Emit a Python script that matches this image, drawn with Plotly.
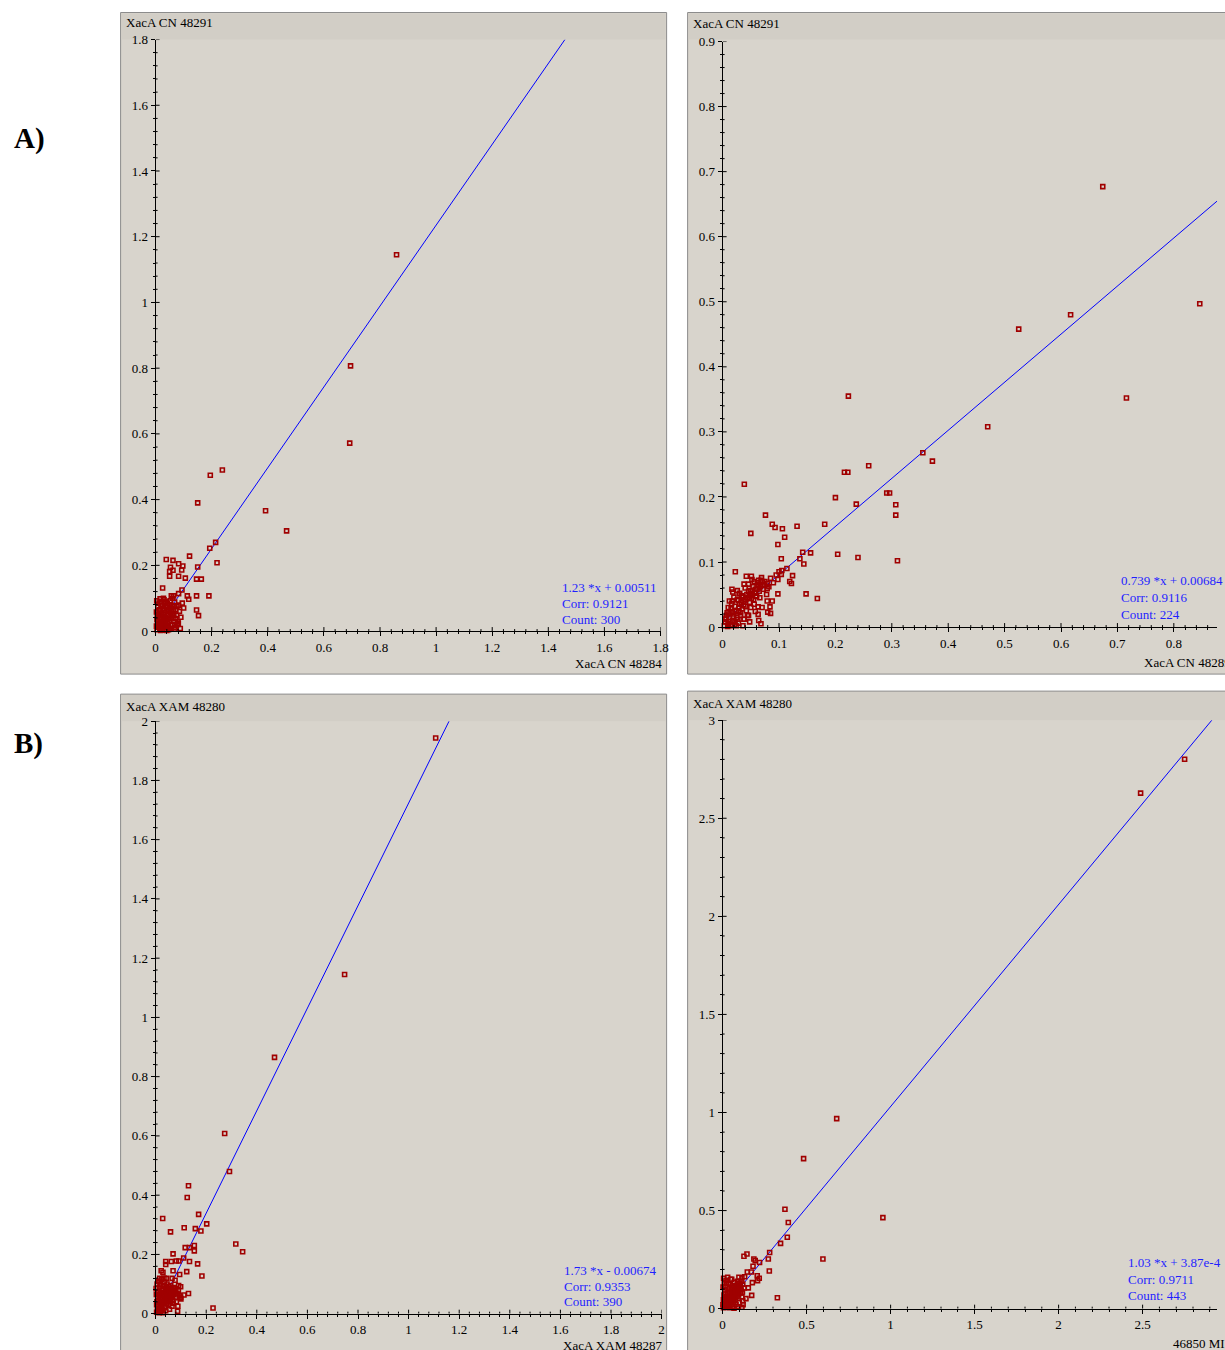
import plotly.graph_objects as go

W, H = 1225, 1350

# ---------------- data ----------------
# Panel A (left): XacA CN 48284 (x) vs XacA CN 48291 (y)
a1_points = [
    (0.859, 1.145), (0.695, 0.807), (0.692, 0.572), (0.392, 0.366), (0.467, 0.305),
    (0.238, 0.490), (0.195, 0.474), (0.150, 0.390), (0.214, 0.270), (0.193, 0.252),
    (0.219, 0.208), (0.121, 0.228), (0.150, 0.195), (0.038, 0.218), (0.062, 0.215),
    (0.082, 0.205), (0.097, 0.198), (0.053, 0.194), (0.050, 0.181), (0.062, 0.185),
    (0.093, 0.186), (0.050, 0.167), (0.082, 0.167), (0.106, 0.161), (0.146, 0.158),
    (0.163, 0.158), (0.025, 0.131), (0.094, 0.125), (0.056, 0.107), (0.064, 0.107),
    (0.082, 0.114), (0.113, 0.107), (0.118, 0.097), (0.146, 0.107), (0.190, 0.107),
    (0.082, 0.079), (0.076, 0.075), (0.146, 0.064), (0.153, 0.047), (0.080, 0.028),
    (0.081, 0.024), (0.068, 0.006), (0.050, 0.006),
    (0.005, 0.004), (0.010, 0.012), (0.015, 0.006), (0.008, 0.020), (0.020, 0.015),
    (0.012, 0.030), (0.025, 0.028), (0.018, 0.040), (0.030, 0.010), (0.035, 0.022),
    (0.028, 0.045), (0.040, 0.035), (0.022, 0.055), (0.045, 0.050), (0.010, 0.048),
    (0.032, 0.062), (0.050, 0.030), (0.055, 0.042), (0.015, 0.065), (0.038, 0.072),
    (0.048, 0.065), (0.025, 0.078), (0.058, 0.060), (0.062, 0.075), (0.042, 0.085),
    (0.020, 0.090), (0.052, 0.092), (0.065, 0.052), (0.070, 0.038), (0.060, 0.020),
    (0.045, 0.012), (0.005, 0.035), (0.003, 0.058), (0.008, 0.075), (0.030, 0.095),
    (0.068, 0.088), (0.072, 0.065), (0.040, 0.002), (0.055, 0.008), (0.065, 0.030),
    (0.075, 0.048), (0.012, 0.085), (0.035, 0.040), (0.018, 0.002), (0.027, 0.018),
    (0.050, 0.078), (0.060, 0.100), (0.033, 0.085), (0.085, 0.060), (0.090, 0.042),
    (0.078, 0.020), (0.088, 0.008), (0.095, 0.085), (0.100, 0.070), (0.004, 0.092),
    (0.070, 0.012), (0.058, 0.048),
    (0.003, 0.015), (0.007, 0.028), (0.013, 0.022), (0.017, 0.012), (0.023, 0.005),
    (0.026, 0.036), (0.021, 0.026), (0.031, 0.028), (0.037, 0.016), (0.043, 0.026),
    (0.047, 0.038), (0.033, 0.052), (0.041, 0.060), (0.027, 0.068), (0.019, 0.078),
    (0.009, 0.062), (0.014, 0.050), (0.052, 0.055), (0.056, 0.070), (0.044, 0.078),
    (0.036, 0.090), (0.028, 0.100), (0.016, 0.098), (0.064, 0.064), (0.068, 0.078),
    (0.062, 0.040), (0.053, 0.018), (0.046, 0.004), (0.033, 0.003), (0.006, 0.045),
]
a1_fit = (1.23, 0.00511)
a1_stats = ["1.23 *x + 0.00511", "Corr: 0.9121", "Count: 300"]
a1_xlabel, a1_ylabel = "XacA CN 48284", "XacA CN 48291"

# Panel A (right): XacA CN 48289 (x) vs XacA CN 48291 (y)
a2_points = [
    (0.674, 0.677), (0.846, 0.497), (0.617, 0.480), (0.525, 0.458), (0.716, 0.352),
    (0.223, 0.355), (0.470, 0.308), (0.355, 0.268), (0.372, 0.255), (0.259, 0.248),
    (0.216, 0.238), (0.222, 0.238), (0.291, 0.206), (0.296, 0.206), (0.237, 0.189),
    (0.307, 0.188), (0.307, 0.172), (0.200, 0.199), (0.0385, 0.2195), (0.181, 0.158),
    (0.240, 0.107), (0.204, 0.112), (0.310, 0.102), (0.076, 0.172), (0.088, 0.158),
    (0.093, 0.153), (0.106, 0.151), (0.132, 0.155), (0.050, 0.144), (0.110, 0.138),
    (0.098, 0.127), (0.142, 0.115), (0.156, 0.114), (0.104, 0.105), (0.137, 0.105),
    (0.144, 0.097), (0.0225, 0.085), (0.114, 0.090), (0.105, 0.087), (0.104, 0.081),
    (0.124, 0.079), (0.098, 0.073), (0.119, 0.070), (0.122, 0.067), (0.148, 0.051),
    (0.168, 0.044), (0.098, 0.051), (0.068, 0.005),
    (0.042, 0.078), (0.051, 0.078), (0.052, 0.073), (0.069, 0.076), (0.064, 0.072),
    (0.056, 0.070), (0.038, 0.066), (0.046, 0.066), (0.079, 0.067), (0.074, 0.064),
    (0.079, 0.059), (0.0165, 0.058), (0.026, 0.056), (0.050, 0.056), (0.030, 0.051),
    (0.049, 0.052), (0.065, 0.055), (0.060, 0.047), (0.036, 0.046), (0.028, 0.041),
    (0.017, 0.040), (0.079, 0.040), (0.084, 0.031), (0.063, 0.031), (0.080, 0.023),
    (0.085, 0.021), (0.063, 0.0195), (0.046, 0.018), (0.038, 0.012), (0.0165, 0.003),
    (0.010, 0.005),
    (0.005, 0.008), (0.010, 0.004), (0.012, 0.015), (0.008, 0.022), (0.018, 0.010),
    (0.020, 0.020), (0.015, 0.028), (0.025, 0.015), (0.028, 0.025), (0.022, 0.032),
    (0.030, 0.035), (0.035, 0.028), (0.032, 0.018), (0.038, 0.040), (0.040, 0.032),
    (0.026, 0.042), (0.045, 0.045), (0.042, 0.025), (0.048, 0.038), (0.034, 0.048),
    (0.052, 0.050), (0.055, 0.042), (0.046, 0.055), (0.058, 0.058), (0.060, 0.048),
    (0.054, 0.062), (0.065, 0.060), (0.062, 0.068), (0.070, 0.065), (0.068, 0.072),
    (0.072, 0.058), (0.075, 0.070), (0.050, 0.030), (0.038, 0.012), (0.028, 0.006),
    (0.016, 0.036), (0.010, 0.030), (0.006, 0.014), (0.014, 0.002), (0.022, 0.008),
    (0.044, 0.018), (0.056, 0.035), (0.066, 0.045), (0.040, 0.060), (0.030, 0.052),
    (0.020, 0.046), (0.012, 0.040), (0.018, 0.054), (0.078, 0.050), (0.082, 0.062),
    (0.085, 0.075), (0.036, 0.002), (0.003, 0.002), (0.024, 0.002), (0.048, 0.008),
    (0.058, 0.024), (0.090, 0.068), (0.095, 0.080), (0.100, 0.085), (0.088, 0.040),
    (0.070, 0.030), (0.064, 0.010),
    (0.007, 0.018), (0.013, 0.008), (0.019, 0.016), (0.024, 0.024), (0.029, 0.030),
    (0.033, 0.038), (0.037, 0.034), (0.041, 0.043), (0.043, 0.050), (0.047, 0.048),
    (0.051, 0.044), (0.053, 0.056), (0.057, 0.052), (0.061, 0.058), (0.063, 0.064),
    (0.067, 0.062), (0.071, 0.070), (0.027, 0.012), (0.031, 0.022), (0.017, 0.024),
    (0.011, 0.020), (0.004, 0.012), (0.009, 0.001), (0.021, 0.004),
]
a2_fit = (0.739, 0.00684)
a2_stats = ["0.739 *x + 0.00684", "Corr: 0.9116", "Count: 224"]
a2_xlabel, a2_ylabel = "XacA CN 48289", "XacA CN 48291"

# Panel B (left): XacA XAM 48287 (x) vs XacA XAM 48280 (y)
b1_points = [
    (1.107, 1.943), (0.747, 1.145), (0.470, 0.865), (0.273, 0.608), (0.292, 0.480),
    (0.317, 0.235), (0.344, 0.209), (0.227, 0.019), (0.130, 0.432), (0.125, 0.392),
    (0.170, 0.335), (0.028, 0.321), (0.202, 0.303), (0.113, 0.290), (0.157, 0.287),
    (0.179, 0.279), (0.059, 0.276), (0.153, 0.230), (0.117, 0.223), (0.134, 0.223),
    (0.153, 0.212), (0.069, 0.202), (0.111, 0.188), (0.134, 0.176), (0.166, 0.168),
    (0.040, 0.176), (0.040, 0.166), (0.062, 0.176), (0.082, 0.178), (0.092, 0.178),
    (0.123, 0.142), (0.183, 0.127), (0.069, 0.145), (0.022, 0.145), (0.029, 0.140),
    (0.042, 0.119), (0.065, 0.119), (0.016, 0.119), (0.095, 0.132), (0.077, 0.113),
    (0.091, 0.095), (0.099, 0.091), (0.130, 0.068), (0.112, 0.063), (0.099, 0.056),
    (0.087, 0.008),
    (0.004, 0.005), (0.010, 0.012), (0.008, 0.025), (0.015, 0.018), (0.020, 0.008),
    (0.018, 0.035), (0.025, 0.028), (0.012, 0.045), (0.030, 0.040), (0.022, 0.052),
    (0.035, 0.020), (0.028, 0.060), (0.040, 0.050), (0.032, 0.070), (0.045, 0.065),
    (0.038, 0.080), (0.050, 0.075), (0.042, 0.035), (0.055, 0.055), (0.048, 0.085),
    (0.060, 0.070), (0.058, 0.040), (0.065, 0.080), (0.062, 0.060), (0.070, 0.088),
    (0.072, 0.065), (0.068, 0.045), (0.075, 0.075), (0.080, 0.085), (0.078, 0.055),
    (0.005, 0.040), (0.003, 0.065), (0.010, 0.075), (0.015, 0.090), (0.020, 0.070),
    (0.025, 0.085), (0.006, 0.100), (0.012, 0.110), (0.018, 0.098), (0.030, 0.095),
    (0.035, 0.105), (0.050, 0.030), (0.055, 0.015), (0.040, 0.010), (0.030, 0.003),
    (0.065, 0.025), (0.085, 0.068), (0.082, 0.040), (0.060, 0.095), (0.045, 0.100),
    (0.008, 0.055), (0.016, 0.062), (0.026, 0.012), (0.036, 0.058), (0.046, 0.045),
    (0.052, 0.092), (0.070, 0.035), (0.090, 0.078), (0.095, 0.060), (0.100, 0.050),
    (0.088, 0.025), (0.002, 0.085), (0.033, 0.120), (0.024, 0.115),
    (0.007, 0.008), (0.013, 0.030), (0.019, 0.042), (0.023, 0.020), (0.027, 0.050),
    (0.031, 0.034), (0.034, 0.064), (0.039, 0.042), (0.043, 0.072), (0.047, 0.058),
    (0.051, 0.066), (0.053, 0.082), (0.057, 0.048), (0.063, 0.070), (0.067, 0.058),
    (0.073, 0.078), (0.077, 0.068), (0.041, 0.088), (0.029, 0.078), (0.021, 0.060),
    (0.011, 0.065), (0.004, 0.030), (0.014, 0.003), (0.037, 0.025),
]
b1_fit = (1.73, -0.00674)
b1_stats = ["1.73 *x - 0.00674", "Corr: 0.9353", "Count: 390"]
b1_xlabel, b1_ylabel = "XacA XAM 48287", "XacA XAM 48280"

# Panel B (right): 46850 MI (x) vs XacA XAM 48280 (y)
b2_points = [
    (2.750, 2.801), (2.488, 2.628), (0.679, 0.969), (0.482, 0.765), (0.954, 0.464),
    (0.597, 0.253), (0.371, 0.507), (0.391, 0.439), (0.385, 0.364), (0.345, 0.333),
    (0.280, 0.286), (0.272, 0.253), (0.145, 0.279), (0.127, 0.267), (0.186, 0.253),
    (0.194, 0.245), (0.220, 0.235), (0.181, 0.216), (0.278, 0.192), (0.147, 0.187),
    (0.171, 0.187), (0.206, 0.168), (0.218, 0.155), (0.208, 0.143), (0.131, 0.163),
    (0.115, 0.157), (0.097, 0.160), (0.006, 0.155), (0.030, 0.160), (0.054, 0.150),
    (0.177, 0.133), (0.153, 0.106), (0.173, 0.068), (0.139, 0.051), (0.326, 0.056),
    (0.115, 0.007),
    (0.005, 0.005), (0.015, 0.010), (0.010, 0.025), (0.025, 0.015), (0.020, 0.035),
    (0.035, 0.028), (0.030, 0.045), (0.045, 0.040), (0.040, 0.060), (0.055, 0.050),
    (0.050, 0.070), (0.065, 0.065), (0.060, 0.085), (0.075, 0.075), (0.070, 0.095),
    (0.085, 0.090), (0.080, 0.110), (0.095, 0.100), (0.090, 0.120), (0.105, 0.115),
    (0.100, 0.130), (0.110, 0.095), (0.005, 0.045), (0.008, 0.070), (0.012, 0.095),
    (0.018, 0.115), (0.025, 0.130), (0.030, 0.080), (0.038, 0.105), (0.045, 0.125),
    (0.052, 0.098), (0.060, 0.118), (0.065, 0.030), (0.075, 0.045), (0.085, 0.060),
    (0.095, 0.070), (0.105, 0.080), (0.115, 0.060), (0.120, 0.040), (0.100, 0.030),
    (0.080, 0.020), (0.060, 0.012), (0.040, 0.005), (0.025, 0.060), (0.015, 0.055),
    (0.002, 0.020), (0.035, 0.012), (0.050, 0.022), (0.070, 0.135), (0.088, 0.140),
    (0.110, 0.140), (0.120, 0.125), (0.003, 0.110), (0.048, 0.150), (0.020, 0.145),
    (0.118, 0.085), (0.128, 0.105), (0.122, 0.020), (0.092, 0.010), (0.068, 0.002),
    (0.008, 0.012), (0.018, 0.022), (0.028, 0.032), (0.022, 0.048), (0.033, 0.055),
    (0.043, 0.052), (0.048, 0.062), (0.058, 0.072), (0.068, 0.080), (0.078, 0.088),
    (0.088, 0.100), (0.098, 0.112), (0.042, 0.085), (0.055, 0.110), (0.035, 0.095),
    (0.015, 0.080), (0.070, 0.055), (0.082, 0.075), (0.092, 0.085), (0.062, 0.045),
    (0.052, 0.035), (0.010, 0.130), (0.028, 0.010), (0.108, 0.100),
]
b2_fit = (1.03, 3.87e-4)
b2_stats = ["1.03 *x + 3.87e-4", "Corr: 0.9711", "Count: 443"]
b2_xlabel, b2_ylabel = "46850 MI", "XacA XAM 48280"

# ---------------- layout helpers ----------------
# the photographed page comes out slightly scaled/offset; compensate
AX, BX = 0.991, 2.4
AY, BY = 0.988, 7.5


def plan_x(t, clamp=True):
    v = (t - BX) / AX
    return min(max(v, 0.0), W) if clamp else v


def plan_y(t, clamp=True):
    v = (t - BY) / AY
    return min(max(v, 0.0), H) if clamp else v


def px(t, clamp=True):
    return plan_x(t, clamp) / W


def py(t, clamp=True):
    return 1 - plan_y(t, clamp) / H


FONT = "Liberation Serif"
PANEL_BG = "#d8d4cc"
BAND_BG = "#d2cec6"
BORDER = "#8c8c8c"
RED = "#a00000"
BLUE = "#1f1fff"

# geometry in target pixels: zero position, pixels per unit, requested max
panels = [
    dict(pts=a1_points, fit=a1_fit, stats=a1_stats, xlab=a1_xlabel, ylab=a1_ylabel,
         box=(120, 13, 666, 674), band=40,
         x0=155, sx=280.5, xmax=1.8, xdt=0.2, xmn=0.04,
         y0=631, sy=328.33, ymax=1.8, ydt=0.2, ymn=0.04,
         title_xy=(123, 23), xlab_xy=(663, 663, "right"), stats_xy=(559, 587, 16)),
    dict(pts=a2_points, fit=a2_fit, stats=a2_stats, xlab=a2_xlabel, ylab=a2_ylabel,
         box=(687, 13, 1260, 674), band=40,
         x0=722, sx=564, xmax=0.95, xdt=0.1, xmn=0.02,
         y0=627, sy=650, ymax=0.9, ydt=0.1, ymn=0.02,
         title_xy=(690, 24), xlab_xy=(1141, 662, "left"), stats_xy=(1118, 580, 17)),
    dict(pts=b1_points, fit=b1_fit, stats=b1_stats, xlab=b1_xlabel, ylab=b1_ylabel,
         box=(120, 694, 666, 1380), band=721,
         x0=155, sx=253, xmax=2.0, xdt=0.2, xmn=0.04,
         y0=1313, sy=296, ymax=2.0, ydt=0.2, ymn=0.04,
         title_xy=(123, 706), xlab_xy=(663, 1345, "right"), stats_xy=(561, 1270, 15.5)),
    dict(pts=b2_points, fit=b2_fit, stats=b2_stats, xlab=b2_xlabel, ylab=b2_ylabel,
         box=(687, 691, 1260, 1380), band=720,
         x0=722, sx=168, xmax=3.2, xdt=0.5, xmn=0.1,
         y0=1308, sy=196, ymax=3.0, ydt=0.5, ymn=0.1,
         title_xy=(690, 703), xlab_xy=(1170, 1343, "left"), stats_xy=(1125, 1262, 16.5)),
]

fig = go.Figure()
shapes = []
annotations = []

for i, p in enumerate(panels, start=1):
    xa = "x" if i == 1 else f"x{i}"
    ya = "y" if i == 1 else f"y{i}"
    xkey = "xaxis" if i == 1 else f"xaxis{i}"
    ykey = "yaxis" if i == 1 else f"yaxis{i}"

    # panel background + title band (right/bottom edges may run off the page)
    bx0, by0, bx1, by1 = p["box"]
    shapes.append(dict(type="rect", xref="paper", yref="paper", layer="below",
                       x0=px(bx0), x1=px(bx1, False), y0=py(by1, False), y1=py(by0),
                       fillcolor=PANEL_BG, line=dict(color=BORDER, width=1)))
    shapes.append(dict(type="rect", xref="paper", yref="paper", layer="below",
                       x0=px(bx0 + 1), x1=px(bx1 - 1, False), y0=py(p["band"]), y1=py(by0 + 1),
                       fillcolor=BAND_BG, line=dict(width=0)))

    # axis domains / ranges (clipped to the page)
    xl = plan_x(p["x0"])
    xr_ = plan_x(p["x0"] + p["xmax"] * p["sx"])
    xmax = (xr_ - xl) * AX / p["sx"]
    yb = plan_y(p["y0"])
    yt = plan_y(p["y0"] - p["ymax"] * p["sy"])
    ymax = (yb - yt) * AY / p["sy"]

    common = dict(showgrid=False, zeroline=False, showline=True, linecolor="black",
                  linewidth=1, ticks="outside", ticklen=4, tickwidth=1, tickcolor="black",
                  tickfont=dict(family=FONT, size=13, color="black"), fixedrange=True)
    fig.layout[xkey] = dict(common, domain=[xl / W, xr_ / W],
                            range=[0, xmax + p["xdt"] * 1e-4], anchor=ya,
                            tick0=0, dtick=p["xdt"],
                            minor=dict(ticks="outside", ticklen=2, tickcolor="black",
                                       dtick=p["xmn"], tick0=0))
    fig.layout[ykey] = dict(common, domain=[1 - yb / H, 1 - yt / H],
                            range=[0, ymax + p["ydt"] * 1e-4], anchor=xa,
                            tick0=0, dtick=p["ydt"],
                            minor=dict(ticks="outside", ticklen=2, tickcolor="black",
                                       dtick=p["ymn"], tick0=0))

    # inner halves of the crossing ticks
    nx = int((xmax + 1e-9) / p["xmn"])
    for k in range(1, nx + 1):
        v = k * p["xmn"]
        major = abs(v / p["xdt"] - round(v / p["xdt"])) < 1e-6
        shapes.append(dict(type="line", xref=xa, yref=ya, x0=v, x1=v,
                           ysizemode="pixel", yanchor=0, y0=0, y1=4 if major else 2,
                           line=dict(color="black", width=1)))
    ny = int((ymax + 1e-9) / p["ymn"])
    for k in range(1, ny + 1):
        v = k * p["ymn"]
        major = abs(v / p["ydt"] - round(v / p["ydt"])) < 1e-6
        shapes.append(dict(type="line", xref=xa, yref=ya, y0=v, y1=v,
                           xsizemode="pixel", xanchor=0, x0=0, x1=4 if major else 2,
                           line=dict(color="black", width=1)))

    # fit line, clipped to the visible range
    m, b = p["fit"]
    xend = min(xmax, (ymax - b) / m)
    fig.add_trace(go.Scatter(x=[0, xend], y=[b, m * xend + b], mode="lines",
                             line=dict(color="#0000ff", width=1), xaxis=xa, yaxis=ya,
                             showlegend=False, hoverinfo="skip"))

    xs = [q[0] for q in p["pts"]]
    ys = [q[1] for q in p["pts"]]
    fig.add_trace(go.Scatter(x=xs, y=ys, mode="markers", cliponaxis=False,
                             marker=dict(symbol="square-open", size=4, color=RED,
                                         line=dict(width=1.6, color=RED)),
                             xaxis=xa, yaxis=ya, showlegend=False))

    # texts
    tx, ty = p["title_xy"]
    annotations.append(dict(text=p["ylab"], x=px(tx), y=py(ty), xref="paper", yref="paper",
                            xanchor="left", yanchor="middle", showarrow=False,
                            font=dict(family=FONT, size=13, color="black")))
    lx, ly, la = p["xlab_xy"]
    annotations.append(dict(text=p["xlab"], x=px(lx), y=py(ly, False),
                            xref="paper", yref="paper",
                            xanchor=la, yanchor="middle", showarrow=False,
                            font=dict(family=FONT, size=13, color="black")))
    sx_, sy_, sd = p["stats_xy"]
    for j, s in enumerate(p["stats"]):
        annotations.append(dict(text=s, x=px(sx_), y=py(sy_ + j * sd), xref="paper", yref="paper",
                                xanchor="left", yanchor="middle", showarrow=False,
                                font=dict(family=FONT, size=13, color=BLUE)))

annotations.append(dict(text="<b>A)</b>", x=px(11), y=py(139), xref="paper", yref="paper",
                        xanchor="left", yanchor="middle", showarrow=False,
                        font=dict(family=FONT, size=29, color="black")))
annotations.append(dict(text="<b>B)</b>", x=px(11), y=py(743), xref="paper", yref="paper",
                        xanchor="left", yanchor="middle", showarrow=False,
                        font=dict(family=FONT, size=29, color="black")))

fig.update_layout(width=W, height=H, margin=dict(l=0, r=0, t=0, b=0),
                  paper_bgcolor="white", plot_bgcolor="rgba(0,0,0,0)",
                  shapes=shapes, annotations=annotations, showlegend=False)

fig.write_html("out.html",
               config={"displayModeBar": False},
               post_script="document.body.style.margin='0';"
                           "document.body.style.padding='0';"
                           "document.documentElement.style.overflow='hidden';"
                           "document.body.style.overflow='hidden';")
